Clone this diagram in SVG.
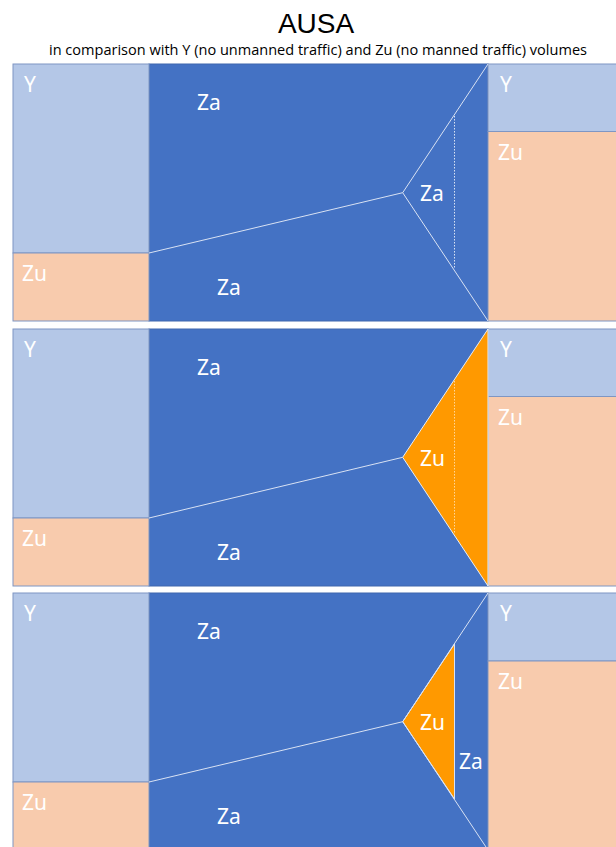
<svg xmlns="http://www.w3.org/2000/svg" width="616" height="847" viewBox="0 0 616 847">
<style>
.bg{fill:#ffffff}
.dk{fill:#4472C4;stroke:#3F66AE;stroke-width:1}
.lb{fill:#B4C7E7;stroke:#7F96C3;stroke-width:1}
.pc{fill:#F8CBAD;stroke:#7F96C3;stroke-width:1}
.or{fill:#FF9900;stroke:#E6EEF8;stroke-width:1}
.ln{stroke:#D9E2F3;stroke-width:1;fill:none}
.dot{stroke:#D9E2F3;stroke-width:1;stroke-dasharray:1.5 1.5;fill:none}
.doto{stroke:#FFD699;stroke-width:1;stroke-dasharray:1.5 1.5;fill:none}
.lbl{font-family:"Noto Sans","Open Sans",sans-serif;font-size:21px;fill:#ffffff}
.t1{font-family:"Liberation Sans",Arial,sans-serif;font-size:28px;fill:#000000}
.t2{font-family:"Open Sans","Liberation Sans",sans-serif;font-size:14px;fill:#000000}
</style>
<rect class="bg" x="0" y="0" width="616" height="847"/>
<g id="title">
<text class="t1" x="316" y="33" text-anchor="middle">AUSA</text>
<text class="t2" x="49" y="55" textLength="538" lengthAdjust="spacingAndGlyphs">in comparison with Y (no unmanned traffic) and Zu (no manned traffic) volumes</text>
</g>

<!-- Panel 1 -->
<g id="p1-za-area"><rect class="dk" x="149" y="64" width="339" height="257"/></g>
<g id="p1-left-y"><rect class="lb" x="13" y="64" width="136" height="189"/><text class="lbl" x="24" y="92">Y</text></g>
<g id="p1-left-zu"><rect class="pc" x="13" y="253" width="136" height="68"/><text class="lbl" x="22" y="281">Zu</text></g>
<g id="p1-right-y"><rect class="lb" x="488" y="64" width="132" height="67.5"/><text class="lbl" x="500" y="92">Y</text></g>
<g id="p1-right-zu"><rect class="pc" x="488" y="131.5" width="132" height="189.5"/><text class="lbl" x="498" y="160">Zu</text></g>
<g id="p1-labels">
<text class="lbl" x="197" y="110">Za</text>
<text class="lbl" x="217" y="295">Za</text>
<text class="lbl" x="420" y="201">Za</text>
</g>

<!-- Panel 2 -->
<g id="p2-za-area"><rect class="dk" x="149" y="329" width="339" height="257"/></g>
<g id="p2-left-y"><rect class="lb" x="13" y="329" width="136" height="189"/><text class="lbl" x="24" y="357">Y</text></g>
<g id="p2-left-zu"><rect class="pc" x="13" y="518" width="136" height="68"/><text class="lbl" x="22" y="546">Zu</text></g>
<g id="p2-right-y"><rect class="lb" x="488" y="329" width="132" height="67.5"/><text class="lbl" x="500" y="357">Y</text></g>
<g id="p2-right-zu"><rect class="pc" x="488" y="396.5" width="132" height="189.5"/><text class="lbl" x="498" y="425">Zu</text></g>
<g id="p2-zu-triangle"><polygon class="or" points="402.7,457.3 488,329 488,586"/></g>
<g id="p2-labels">
<text class="lbl" x="197" y="375">Za</text>
<text class="lbl" x="217" y="560">Za</text>
<text class="lbl" x="420" y="466">Zu</text>
</g>

<!-- Panel 3 -->
<g id="p3-za-area"><rect class="dk" x="149" y="593" width="339" height="260"/></g>
<g id="p3-left-y"><rect class="lb" x="13" y="593" width="136" height="189"/><text class="lbl" x="24" y="621">Y</text></g>
<g id="p3-left-zu"><rect class="pc" x="13" y="782" width="136" height="70"/><text class="lbl" x="22" y="810">Zu</text></g>
<g id="p3-right-y"><rect class="lb" x="488" y="593" width="132" height="68"/><text class="lbl" x="500" y="621">Y</text></g>
<g id="p3-right-zu"><rect class="pc" x="488" y="661" width="132" height="192"/><text class="lbl" x="498" y="689">Zu</text></g>
<g id="p3-zu-triangle"><polygon class="or" points="402.7,721.7 454.5,644 454.5,799"/></g>
<g id="p3-labels">
<text class="lbl" x="197" y="639">Za</text>
<text class="lbl" x="217" y="824">Za</text>
<text class="lbl" x="420" y="730">Zu</text>
<text class="lbl" x="459" y="769">Za</text>
</g>

<g id="connectors">
<polyline class="ln" points="149,253 402.7,192.7"/>
<polyline class="ln" points="488,64 402.7,192.7 488,321"/>
<line class="dot" x1="454.5" y1="116" x2="454.5" y2="269"/>

<polyline class="ln" points="149,518 402.7,457.3"/>
<line class="doto" x1="454.5" y1="381" x2="454.5" y2="534"/>

<polyline class="ln" points="149,782 402.7,721.7"/>
<polyline class="ln" points="488,593 402.7,721.7 488,850"/>
<line class="ln" x1="454.5" y1="644" x2="454.5" y2="799"/>
</g>
</svg>
